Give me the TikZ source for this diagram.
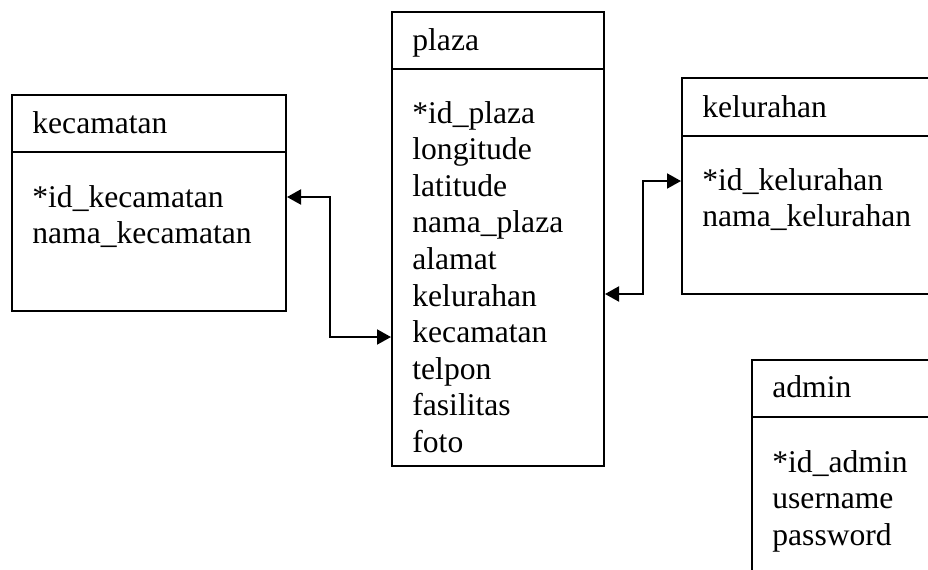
\documentclass[tikz,border=0pt]{standalone}
\usepackage{fontspec}
\setmainfont{Liberation Serif}
\usetikzlibrary{arrows.meta}
\begin{document}
\begin{tikzpicture}[x=0.5pt,y=-0.5pt,
  box/.style={draw=black,line width=1pt,fill=white,rectangle,anchor=north west,inner sep=0pt},
  txt/.style={anchor=base west,inner sep=0pt,font=\fontsize{15.8pt}{18.3pt}\selectfont},
  rel/.style={line width=1pt,{Triangle[length=7pt,width=7.5pt]}-{Triangle[length=7pt,width=7.5pt]}}]
\useasboundingbox (0,0) rectangle (928,569);
\clip (0,0) rectangle (928,569);
% boxes
\node[box,minimum width=137pt,minimum height=108pt] (kec) at (11,94) {};
\node[box,minimum width=106pt,minimum height=227pt] (plaza) at (391,11) {};
\node[box,minimum width=150pt,minimum height=108pt] (kel) at (681,77) {};
\node[box,minimum width=120pt,minimum height=150pt] (adm) at (751,359) {};
% dividers
\draw[line width=1pt] (kec.west |- 0,152) -- (kec.east |- 0,152);
\draw[line width=1pt] (plaza.west |- 0,69) -- (plaza.east |- 0,69);
\draw[line width=1pt] (kel.west |- 0,136) -- (kel.east |- 0,136);
\draw[line width=1pt] (adm.west |- 0,417) -- (adm.east |- 0,417);
% titles
\node[txt] (kect) at (32,133) {kecamatan};
\node[txt] (plazat) at (412,50) {plaza};
\node[txt] (kelt) at (702,117) {kelurahan};
\node[txt] (admt) at (772,397) {admin};
% attributes
\foreach \t [count=\i from 0] in {*id\_kecamatan,nama\_kecamatan}
  \node[txt] (kec-\i) at (32,{207+36.6*\i}) {\t};
\foreach \t [count=\i from 0] in {*id\_plaza,longitude,latitude,nama\_plaza,alamat,kelurahan,kecamatan,telpon,fasilitas,foto}
  \node[txt] (pl-\i) at (412,{123+36.6*\i}) {\t};
\foreach \t [count=\i from 0] in {*id\_kelurahan,nama\_kelurahan}
  \node[txt] (kel-\i) at (702,{190+36.6*\i}) {\t};
\foreach \t [count=\i from 0] in {*id\_admin,username,password}
  \node[txt] (adm-\i) at (772,{472+36.6*\i}) {\t};
% relations
\draw[rel] (kec.east |- 0,197) -- (330,197) |- (plaza.west |- 0,337);
\draw[rel] (plaza.east |- 0,294) -- (643,294) |- (kel.west |- 0,181);
\end{tikzpicture}
\end{document}
